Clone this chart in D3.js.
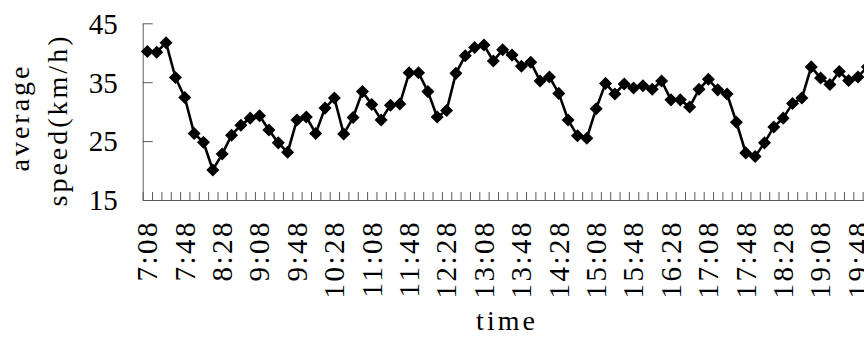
<!DOCTYPE html>
<html>
<head>
<meta charset="utf-8">
<script src="https://cdn.jsdelivr.net/npm/d3@7"></script>
<style>
  html, body { margin: 0; padding: 0; background: #fff; }
  svg { display: block; }
  svg text { font-family: "Liberation Serif", "DejaVu Serif", serif; }
</style>
</head>
<body>
<svg id="chart" width="864" height="338"></svg>
<script>
// time slots every 10 min (the chart is cut off on the right)
const times = [
  "7:08","7:18","7:28","7:38","7:48","7:58","8:08","8:18","8:28","8:38",
  "8:48","8:58","9:08","9:18","9:28","9:38","9:48","9:58","10:08","10:18",
  "10:28","10:38","10:48","10:58","11:08","11:18","11:28","11:38","11:48","11:58",
  "12:08","12:18","12:28","12:38","12:48","12:58","13:08","13:18","13:28","13:38",
  "13:48","13:58","14:08","14:18","14:28","14:38","14:48","14:58","15:08","15:18",
  "15:28","15:38","15:48","15:58","16:08","16:18","16:28","16:38","16:48","16:58",
  "17:08","17:18","17:28","17:38","17:48","17:58","18:08","18:18","18:28","18:38",
  "18:48","18:58","19:08","19:18","19:28","19:38","19:48","19:58","20:08","20:18"
];

const avgSpeed = [
  40.2, 40.1, 41.7, 35.8, 32.4, 26.3, 24.8, 20.1, 22.8, 26.0,
  27.7, 28.9, 29.3, 26.9, 24.7, 23.1, 28.6, 29.1, 26.3, 30.6,
  32.3, 26.2, 29.0, 33.4, 31.2, 28.6, 31.1, 31.3, 36.6, 36.6,
  33.4, 29.1, 30.2, 36.5, 39.5, 40.9, 41.3, 38.6, 40.5, 39.6,
  37.7, 38.4, 35.2, 35.9, 33.1, 28.6, 25.9, 25.5, 30.5, 34.8,
  33.0, 34.7, 34.0, 34.4, 33.8, 35.2, 32.0, 32.0, 30.8, 33.8,
  35.5, 33.7, 33.0, 28.2, 23.0, 22.4, 24.7, 27.4, 28.9, 31.4,
  32.3, 37.6, 35.7, 34.6, 36.8, 35.3, 35.9, 37.6
];

const yTicks = [15, 25, 35, 45];
const labelEvery = 4;

const svg = d3.select("#chart");
const plotLeft = 142.7, plotTop = 23.3, plotBottom = 200, step = 9.35;

const x = d3.scaleBand()
  .domain(times)
  .range([plotLeft, plotLeft + times.length * step])
  .padding(0);

const xEdge = d3.scaleLinear()
  .domain([0, times.length])
  .range([plotLeft, plotLeft + times.length * step]);

const y = d3.scaleLinear()
  .domain([15, 45])
  .range([plotBottom, plotTop]);

const axisColor = "#5a5a5a";
const serif = "Liberation Serif, DejaVu Serif, serif";

// y axis, ticks pointing inward
const yAxis = svg.append("g")
  .attr("transform", "translate(" + plotLeft + ",0)")
  .call(d3.axisLeft(y).tickValues(yTicks).tickSize(-10).tickPadding(25).tickSizeOuter(0))
  .attr("font-family", serif)
  .attr("font-size", 29);
yAxis.select(".domain").attr("stroke", axisColor);
yAxis.selectAll(".tick line").attr("stroke", axisColor);
yAxis.selectAll("text")
  .attr("fill", "#000")
  .attr("dy", "0.34em");

// x axis: tick marks between categories
const xTickAxis = svg.append("g")
  .attr("transform", "translate(0," + plotBottom + ")")
  .call(d3.axisBottom(xEdge).tickValues(d3.range(times.length + 1)).tickSize(-8).tickSizeOuter(0).tickFormat(""));
xTickAxis.select(".domain").attr("stroke", axisColor);
xTickAxis.selectAll(".tick line").attr("stroke", axisColor);

// x labels, rotated
const xLabelAxis = svg.append("g")
  .attr("transform", "translate(0," + plotBottom + ")")
  .call(d3.axisBottom(x).tickValues(times.filter((d, i) => i % labelEvery === 0)).tickSize(0))
  .attr("font-family", serif)
  .attr("font-size", 29);
xLabelAxis.select(".domain").remove();
xLabelAxis.selectAll("text")
  .attr("fill", "#000")
  .attr("letter-spacing", 2.5)
  .attr("text-anchor", "end")
  .attr("transform", "rotate(-90)")
  .attr("x", -20)
  .attr("y", 0)
  .attr("dy", "0.34em");

// line + markers
const pts = avgSpeed.map((v, i) => [x(times[i]) + x.bandwidth() / 2, y(v)]);

svg.append("path")
  .datum(pts)
  .attr("fill", "none")
  .attr("stroke", "#000")
  .attr("stroke-width", 2.6)
  .attr("stroke-linejoin", "round")
  .attr("d", d3.line());

const marker = d3.symbol().type(d3.symbolSquare).size(85);
svg.selectAll(".mark")
  .data(pts)
  .enter()
  .append("path")
  .attr("class", "mark")
  .attr("d", marker)
  .attr("fill", "#000")
  .attr("transform", d => "translate(" + d[0] + "," + d[1] + ") rotate(45)");

// axis titles
const titles = svg.append("g")
  .attr("font-family", serif)
  .attr("font-size", 28)
  .attr("letter-spacing", 3)
  .attr("text-anchor", "middle");

titles.append("text")
  .attr("transform", "translate(29,117.5) rotate(-90)")
  .text("average");

titles.append("text")
  .attr("transform", "translate(67,120) rotate(-90)")
  .text("speed(km/h)");

titles.append("text")
  .attr("x", 507)
  .attr("y", 330)
  .text("time");
</script>
</body>
</html>
